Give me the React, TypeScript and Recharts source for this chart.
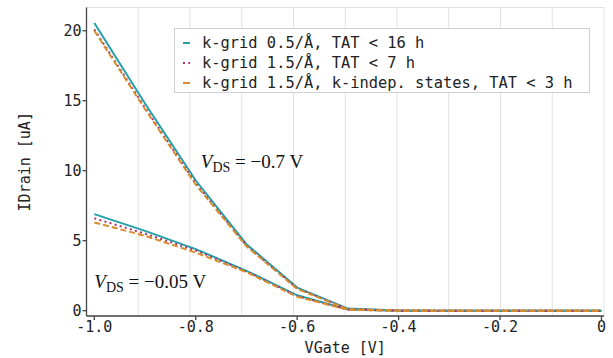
import React from 'react';
import {
  LineChart, Line, XAxis, YAxis, CartesianGrid, Legend, ReferenceDot,
} from 'recharts';

// Gate voltage [V]
const vGate = [-1.0, -0.9, -0.8, -0.7, -0.6, -0.5, -0.4, -0.3, -0.2, -0.1, 0.0];

// VDS = -0.7 V
const hiK05 = [20.55, 14.8, 9.3, 4.75, 1.65, 0.15, 0.01, 0, 0, 0, 0];
const hiK15 = [20.1, 14.5, 9.1, 4.65, 1.6, 0.12, 0.01, 0, 0, 0, 0];
const hiK15i = [20.0, 14.4, 9.0, 4.6, 1.55, 0.1, 0.01, 0, 0, 0, 0];

// VDS = -0.05 V
const loK05 = [6.9, 5.7, 4.4, 2.85, 1.1, 0.08, 0.0, 0, 0, 0, 0];
const loK15 = [6.6, 5.5, 4.3, 2.8, 1.05, 0.07, 0.0, 0, 0, 0, 0];
const loK15i = [6.3, 5.35, 4.15, 2.75, 1.0, 0.06, 0.0, 0, 0, 0, 0];

const seriesNames = [
  'k-grid 0.5/Å, TAT < 16 h',
  'k-grid 1.5/Å, TAT < 7 h',
  'k-grid 1.5/Å, k-indep. states, TAT < 3 h',
];
const seriesColors = ['#22a2a8', '#a8336f', '#d98c2b'];
const seriesDash = [undefined, '2 3.3', '6 3'];

const xTicks = [-1.0, -0.8, -0.6, -0.4, -0.2, 0];
const yTicks = [0, 5, 10, 15, 20];

const data = vGate.map((x, i) => ({
  x,
  hiA: hiK05[i], hiB: hiK15[i], hiC: hiK15i[i],
  loA: loK05[i], loB: loK15[i], loC: loK15i[i],
}));

const mono = '"DejaVu Sans Mono", monospace';
const serif = '"Liberation Serif", "DejaVu Serif", serif';

const LegendBox = () => (
  <div
    style={{
      width: 416, height: 65, boxSizing: 'border-box', background: '#fff',
      border: '1px solid #cfcfcf', padding: '4px 0 0 7px',
      fontFamily: mono, fontSize: 15.4, color: '#222',
    }}
  >
    {seriesNames.map((n, i) => (
      <div key={n} style={{ display: 'flex', alignItems: 'center', height: 20, whiteSpace: 'pre' }}>
        <svg width={20} height={20} style={{ flex: 'none' }}>
          <line x1={1} y1={10} x2={8} y2={10} stroke={seriesColors[i]} strokeWidth={2}
            strokeDasharray={i === 1 ? '2 3.3' : undefined} />
        </svg>
        <span>{n}</span>
      </div>
    ))}
  </div>
);

const makeAnno = (val: string) => (props: any) => {
  const vb = props.viewBox || {};
  const x = vb.x ?? 0;
  const y = vb.y ?? 0;
  return (
    <text x={x} y={y} fontFamily={serif} fontSize={19} fill="#111">
      <tspan fontStyle="italic">V</tspan>
      <tspan fontSize={14} dy={4}>DS</tspan>
      <tspan dy={-4}>{` = \u2212${val} V`}</tspan>
    </text>
  );
};

const YLabel = (props: any) => {
  const vb = props.viewBox || {};
  const cx = (vb.x ?? 0) + 25;
  const cy = (vb.y ?? 0) + (vb.height ?? 0) / 2;
  return (
    <text x={cx} y={cy} transform={`rotate(-90, ${cx}, ${cy})`} textAnchor="middle"
      dominantBaseline="central" fontFamily={mono} fontSize={15} fill="#222">
      IDrain [uA]
    </text>
  );
};

export default function App() {
  const axisStroke = '#444';
  const tickStyle = { fontFamily: mono, fontSize: 15, fill: '#222' };
  return (
    <div style={{ position: 'absolute', left: 0, top: 0, background: '#fff' }}>
      <LineChart width={613} height={358} data={data}
        margin={{ top: 7.5, right: 9, bottom: 0, left: 0 }}>
        <CartesianGrid stroke="#e2e2e2" strokeWidth={1} />
        <XAxis xAxisId="b" dataKey="x" type="number" domain={[-1.0154, 0.005]} ticks={xTicks}
          allowDataOverflow height={42} stroke={axisStroke} strokeWidth={1.3}
          tickSize={4} tickMargin={1} tick={tickStyle}
          tickFormatter={(v: number) => (v === 0 ? '0' : v.toFixed(1))}
          label={{ value: 'VGate [V]', position: 'insideBottom', offset: 5, style: { fontFamily: mono, fontSize: 15, fill: '#222' } }} />
        <XAxis xAxisId="t" dataKey="x" type="number" orientation="top" domain={[-1.0154, 0.005]}
          ticks={xTicks} allowDataOverflow height={0} stroke={axisStroke} strokeWidth={1.3}
          tick={false} tickSize={4} mirror />
        <YAxis yAxisId="l" type="number" domain={[-0.38, 21.66]} ticks={yTicks} allowDataOverflow
          width={86.5} stroke={axisStroke} strokeWidth={1.3} tickSize={4} tickMargin={1} tick={tickStyle}
          label={<YLabel />} />
        <YAxis yAxisId="r" type="number" orientation="right" domain={[-0.38, 21.66]} ticks={yTicks}
          allowDataOverflow width={0} stroke={axisStroke} strokeWidth={1.3} tick={false} tickSize={4} mirror />

        <Line xAxisId="b" yAxisId="l" dataKey="hiA" stroke={seriesColors[0]} strokeWidth={2} dot={false} isAnimationActive={false} legendType="none" />
        <Line xAxisId="b" yAxisId="l" dataKey="loA" stroke={seriesColors[0]} strokeWidth={2} dot={false} isAnimationActive={false} legendType="none" />
        <Line xAxisId="b" yAxisId="l" dataKey="hiB" stroke={seriesColors[1]} strokeWidth={2} strokeDasharray={seriesDash[1]} dot={false} isAnimationActive={false} legendType="none" />
        <Line xAxisId="b" yAxisId="l" dataKey="loB" stroke={seriesColors[1]} strokeWidth={2} strokeDasharray={seriesDash[1]} dot={false} isAnimationActive={false} legendType="none" />
        <Line xAxisId="b" yAxisId="l" dataKey="hiC" stroke={seriesColors[2]} strokeWidth={2} strokeDasharray={seriesDash[2]} dot={false} isAnimationActive={false} legendType="none" />
        <Line xAxisId="b" yAxisId="l" dataKey="loC" stroke={seriesColors[2]} strokeWidth={2} strokeDasharray={seriesDash[2]} dot={false} isAnimationActive={false} legendType="none" />

        <ReferenceDot xAxisId="b" yAxisId="l" x={-0.79} y={10.17} r={0} ifOverflow="visible" label={makeAnno('0.7')} />
        <ReferenceDot xAxisId="b" yAxisId="l" x={-1.0} y={1.62} r={0} ifOverflow="visible" label={makeAnno('0.05')} />

        <Legend layout="horizontal" verticalAlign="middle" align="center" content={<LegendBox />}
          wrapperStyle={{ left: 174, top: 28, width: 416, height: 65 }} />
      </LineChart>
    </div>
  );
}
